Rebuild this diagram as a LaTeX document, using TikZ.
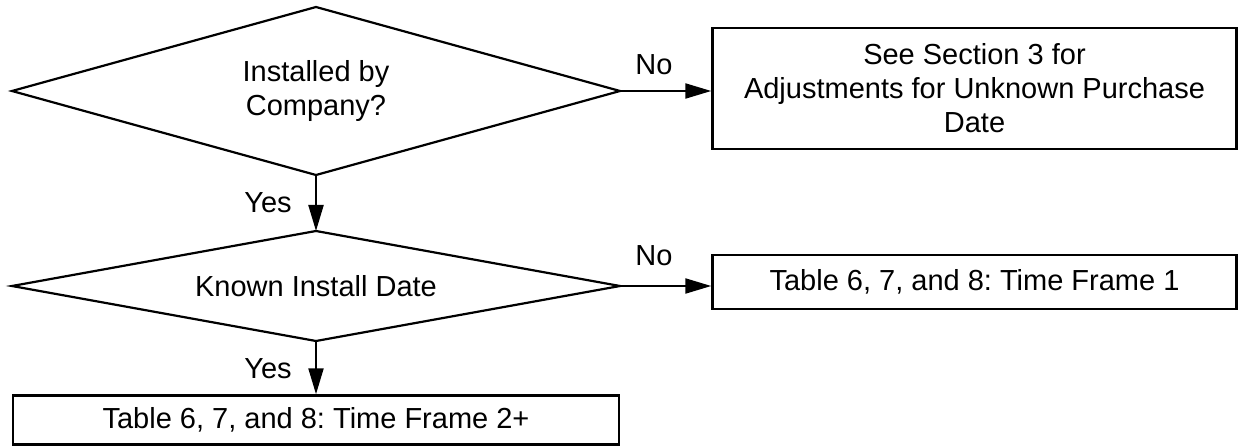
\documentclass[tikz,border=0pt]{standalone}
\usepackage{fontspec}
\setmainfont{Liberation Sans}
\usetikzlibrary{arrows.meta}
\frenchspacing
\begin{document}
\begin{tikzpicture}[x=1pt,y=-1pt,
  txt/.style={font=\fontsize{29}{34}\selectfont},
  dtext/.style={txt,inner sep=0pt,align=center},
  dline/.style={line width=2.2pt,line join=miter},
  box/.style={txt,draw,rectangle,line width=2.5pt,inner sep=0pt,align=center},
  arr/.style={line width=2.2pt,-{Triangle[length=26pt,width=15pt]}},
  lbl/.style={txt,anchor=base,inner sep=0pt}]
\useasboundingbox (0,0) rectangle (1238,446);
% decision 1
\coordinate (d1n) at (316,7);
\coordinate (d1s) at (316,175);
\coordinate (d1w) at (12,91);
\coordinate (d1e) at (620,91);
\draw[dline] (d1n) -- (d1e) -- (d1s) -- (d1w) -- cycle;
\node[dtext] (d1) at (316,91) {Installed by\\Company?};
% decision 2
\coordinate (d2n) at (316,231);
\coordinate (d2s) at (316,341);
\coordinate (d2w) at (12,286);
\coordinate (d2e) at (620,286);
\draw[dline] (d2n) -- (d2e) -- (d2s) -- (d2w) -- cycle;
\node[dtext] (d2) at (316,286) {Known Install Date};
% boxes
\node[box,minimum width=524pt,minimum height=121pt] (b1) at (974.5,88.5) {See Section 3 for\\Adjustments for Unknown Purchase\\Date};
\node[box,minimum width=524pt,minimum height=54pt] (b2) at (974.5,282) {Table 6, 7, and 8: Time Frame 1};
\node[box,minimum width=606pt,minimum height=49pt] (b3) at (316,420) {Table 6, 7, and 8: Time Frame 2+};
% connectors
\draw[arr] (d1e) -- (d1e -| b1.west);
\draw[arr] (d2e) -- (d2e -| b2.west);
\draw[arr] (d1s) -- (d2n);
\draw[arr] (d2s) -- (d2s |- b3.north);
% labels
\node[lbl] (n1) at (654,75) {No};
\node[lbl] (n2) at (654,265) {No};
\node[lbl] (y1) at (268,213) {Yes};
\node[lbl] (y2) at (268,378) {Yes};
\end{tikzpicture}
\end{document}
